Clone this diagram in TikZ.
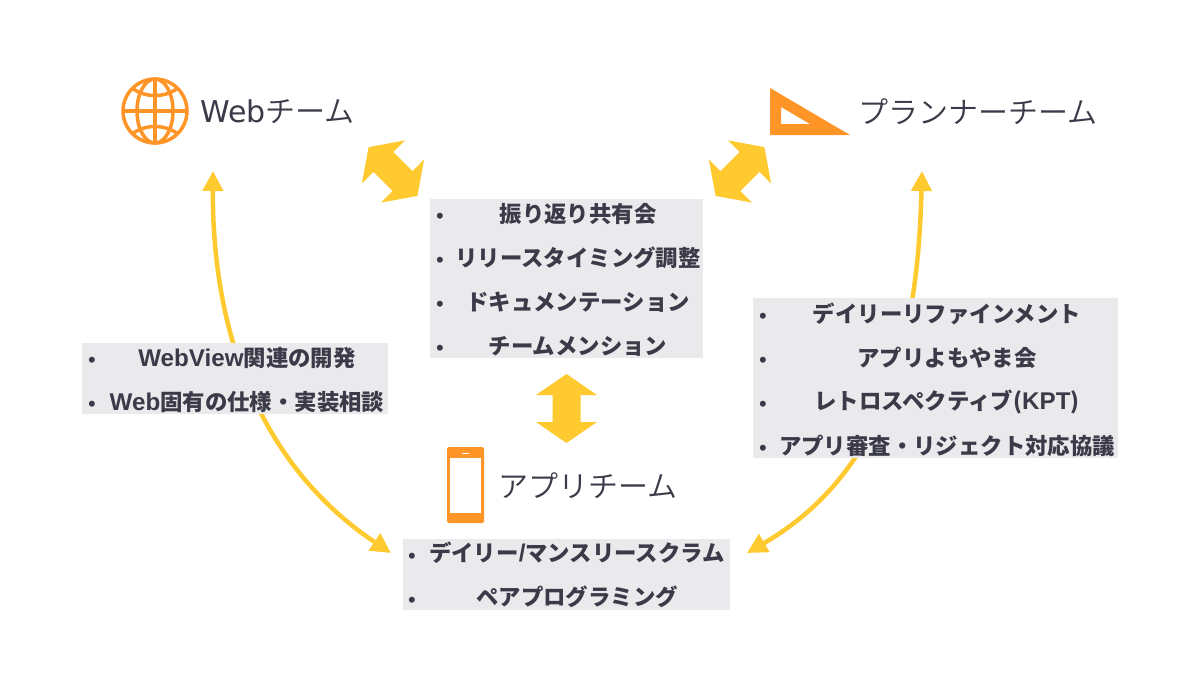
\documentclass[tikz,border=0pt]{standalone}
\usepackage{fontspec}
\setmainfont{Noto Sans CJK JP}
\newfontfamily\latinfont[Scale=1.08]{Liberation Sans}
\newfontfamily\webfont{DejaVu Sans}
\newfontfamily\bulletfont{Liberation Sans}
\newfontfamily\titlefont{Noto Sans CJK JP DemiLight}
\usetikzlibrary{arrows.meta}
\definecolor{arrowyellow}{HTML}{FFCA30}
\definecolor{iconorange}{HTML}{FF9526}
\definecolor{boxgray}{HTML}{EAEAEC}
\definecolor{inkdark}{HTML}{3A3A48}

\begin{document}
\begin{tikzpicture}[
    x=1pt, y=-1pt,
    title/.style={text=inkdark, font=\titlefont\fontsize{30}{30}\selectfont, inner sep=0pt},
    item/.style={text=inkdark, font=\bfseries\fontsize{22.4}{22.4}\selectfont, inner sep=0pt},
    bullet/.style={text=inkdark, font=\bulletfont\fontsize{22}{22}\selectfont, inner sep=0pt},
    panel/.style={fill=boxgray},
    flow/.style={draw=arrowyellow, line width=4.5pt, {Triangle[width=20pt,length=20pt]}-{Triangle[width=20pt,length=20pt]}},
    both/.pic={
      \fill[arrowyellow] (0,-34.5) -- (30.5,-13.5) -- (14,-13.5) -- (14,13.5) -- (30.5,13.5)
        -- (0,34.5) -- (-30.5,13.5) -- (-14,13.5) -- (-14,-13.5) -- (-30.5,-13.5) -- cycle;
    }
]
  \useasboundingbox[fill=white] (0,0) rectangle (1200,675);

  % --- CURVED ARROWS ---
  \coordinate (webtip) at (213,171);
  \coordinate (plantip) at (922,171);
  \coordinate (appleft) at (391,553);
  \coordinate (appright) at (747,553);
  \draw[flow] (webtip) .. controls (212,325) and (255,462) .. (appleft);
  \draw[flow] (plantip) .. controls (918,330) and (890,470) .. (appright);

  % --- PANELS ---
  \fill[panel] (430,199) rectangle (703,358);
  \fill[panel] (753,298) rectangle (1118,458);
  \fill[panel] (82,343) rectangle (388,414);
  \fill[panel] (403,539) rectangle (730,610);

  % --- CENTER LIST ---
  \node[bullet] (c1b) at (440,218) {•};
  \node[bullet] (c2b) at (440,262) {•};
  \node[bullet] (c3b) at (440,306) {•};
  \node[bullet] (c4b) at (440,350) {•};
  \node[item] (c1) at (578,214) {振り返り共有会};
  \node[item] (c2) at (578,258) {リリースタイミング調整};
  \node[item] (c3) at (578,302) {ドキュメンテーション};
  \node[item] (c4) at (578,346) {チームメンション};

  % --- RIGHT LIST ---
  \node[bullet] (r1b) at (763,318) {•};
  \node[bullet] (r2b) at (763,362) {•};
  \node[bullet] (r3b) at (763,406) {•};
  \node[bullet] (r4b) at (763,450) {•};
  \node[item] (r1) at (947,314) {デイリーリファインメント};
  \node[item] (r2) at (947,358) {アプリよもやま会};
  \node[item] (r3) at (947,402) {レトロスペクティブ({\latinfont KPT})};
  \node[item] (r4) at (947,446) {アプリ審査・リジェクト対応協議};

  % --- LEFT LIST ---
  \node[bullet] (l1b) at (92,362) {•};
  \node[bullet] (l2b) at (92,406) {•};
  \node[item] (l1) at (247,358) {{\latinfont WebView}関連の開発};
  \node[item] (l2) at (247,402) {{\latinfont Web}固有の仕様・実装相談};

  % --- BOTTOM LIST ---
  \node[bullet] (b1b) at (412,558) {•};
  \node[bullet] (b2b) at (412,602) {•};
  \node[item] (b1) at (577,553) {デイリー{\latinfont /}マンスリースクラム};
  \node[item] (b2) at (577,597) {ペアプログラミング};

  % --- BLOCK ARROWS ---
  \pic at (393,171.5) [rotate=45] {both};
  \pic at (740,171.5) [rotate=-45] {both};
  \pic at (566.5,408.5) {both};

  % --- TITLES ---
  \node[title, anchor=west] (web) at (200,112) {{\webfont Web}チーム};
  \node[title, anchor=west] (plan) at (858,112) {プランナーチーム};
  \node[title, anchor=west] (app) at (498,486) {アプリチーム};

  % --- GLOBE ---
  \begin{scope}[draw=iconorange, line width=3.5pt]
    \draw (155,111) circle[radius=32];
    \draw (123,111) -- (187,111);
    \draw (155,79) -- (155,143);
    \draw (155,111) ellipse[x radius=18, y radius=32];
    \draw (132,88) .. controls (145,98) and (165,98) .. (178,88);
    \draw (132,134) .. controls (145,124) and (165,124) .. (178,134);
  \end{scope}

  % --- SET SQUARE ---
  \fill[iconorange, even odd rule] (770,88) -- (850,135) -- (770,135) -- cycle
    (781,107) -- (781,124) -- (810,124) -- cycle;

  % --- PHONE ---
  \fill[iconorange, rounded corners=2pt] (447,447) rectangle (484,523);
  \fill[white] (450,458) rectangle (481,513);
  \fill[white] (462,452.5) rectangle (469,454);
\end{tikzpicture}
\end{document}
